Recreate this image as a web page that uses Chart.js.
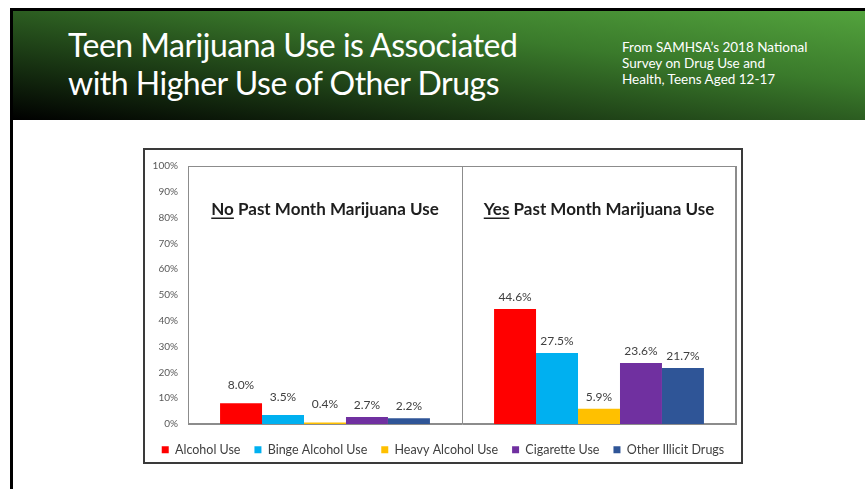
<!DOCTYPE html>
<html>
<head>
<meta charset="utf-8">
<script src="https://cdn.jsdelivr.net/npm/chart.js@4.4.1/dist/chart.umd.min.js"></script>
<style>
  body { margin: 0; background: #fff; width: 865px; height: 489px; overflow: hidden; position: relative; font-family: Lato, "Open Sans", sans-serif; }
  #slide { position: absolute; left: 10px; top: 8px; width: 855px; height: 481px; border-left: 3px solid #000; border-top: 3px solid #000; }
  #header { position: absolute; left: 13px; top: 11px; width: 852px; height: 109px;
    background: linear-gradient(to top right, #000 0%, #1c3c15 32%, #3a7a2b 66%, #53a33d 100%); }
  #title { position: absolute; left: 55px; top: 15px; color: #fff; font-size: 32px; font-weight: 400; letter-spacing: -0.5px; line-height: 38px; white-space: nowrap; }
  #subtitle { position: absolute; left: 609px; top: 28px; color: #fff; font-size: 13.5px; line-height: 16px; white-space: nowrap; }
  #frame { position: absolute; left: 143px; top: 148px; width: 600px; height: 316px; box-sizing: border-box; border: 2px solid #3a3a3a; background: #fff; }
  #chartBox { position: absolute; left: 0; top: 0; width: 596px; height: 312px; }
</style>
</head>
<body>
<div id="slide"></div>
<div id="header">
  <div id="title">Teen Marijuana Use is Associated<br>with Higher Use of Other Drugs</div>
  <div id="subtitle">From SAMHSA’s 2018 National<br>Survey on Drug Use and<br>Health, Teens Aged 12-17</div>
</div>
<div id="frame"><div id="chartBox"><canvas id="drugChart"></canvas></div></div>

<script>
// two panels: teens with / without past month marijuana use
const groupLead = ['No', 'Yes'];
const groupRest = [' Past Month Marijuana Use', ' Past Month Marijuana Use'];
const seriesNames = ['Alcohol Use', 'Binge Alcohol Use', 'Heavy Alcohol Use', 'Cigarette Use', 'Other Illicit Drugs'];
const seriesColors = ['#ff0000', '#00b0f0', '#ffc000', '#7030a0', '#2f5597'];

// percent of teens, [no marijuana, yes marijuana]
const alcoholUse = [8.0, 44.6];
const bingeAlcohol = [3.5, 27.5];
const heavyAlcohol = [0.4, 5.9];
const cigaretteUse = [2.7, 23.6];
const otherIllicit = [2.2, 21.7];

const yTickValues = [0, 10, 20, 30, 40, 50, 60, 70, 80, 90, 100];

const seriesValues = [alcoholUse, bingeAlcohol, heavyAlcohol, cigaretteUse, otherIllicit];

const FONT = 'Lato, "Open Sans", sans-serif';

// box round the plot area, panel headings and value labels
const panelPlugin = {
  id: 'panels',
  beforeDatasetsDraw(chart) {
    const {ctx, chartArea: a} = chart;
    ctx.save();
    ctx.strokeStyle = '#8c8c8c';
    ctx.lineWidth = 1;
    ctx.strokeRect(a.left + 0.5, a.top + 0.5, a.right - a.left - 1, a.bottom - a.top - 1);
    ctx.restore();
  },
  afterDatasetsDraw(chart, args, opts) {
    const {ctx, chartArea: a} = chart;
    const xs = chart.scales.x;
    ctx.save();
    ctx.font = 'bold 17px ' + FONT;
    ctx.fillStyle = '#1e1e1e';
    ctx.textBaseline = 'alphabetic';
    ctx.textAlign = 'left';
    groupLead.forEach((lead, i) => {
      const rest = groupRest[i];
      const wLead = ctx.measureText(lead).width;
      const w = wLead + ctx.measureText(rest).width;
      const x0 = xs.getPixelForValue(i) - w / 2;
      const y = a.top + 49;
      ctx.fillText(lead, x0, y);
      ctx.fillText(rest, x0 + wLead, y);
      ctx.fillRect(x0, y + 2.5, wLead, 1.5);
    });

    ctx.font = '12px ' + FONT;
    ctx.fillStyle = '#404040';
    ctx.textAlign = 'center';
    ctx.textBaseline = 'middle';
    chart.data.datasets.forEach((ds, di) => {
      const meta = chart.getDatasetMeta(di);
      meta.data.forEach((bar, i) => {
        const lift = (opts.lift[di] && opts.lift[di][i]) || 0;
        ctx.fillText(ds.data[i].toFixed(1) + '%', bar.x, bar.y - 12 - lift);
      });
    });
    ctx.restore();
  }
};

new Chart(document.getElementById('drugChart'), {
  type: 'bar',
  data: {
    labels: groupLead.map((l, i) => l + groupRest[i]),
    datasets: seriesNames.map((name, i) => ({
      label: name,
      data: seriesValues[i],
      backgroundColor: seriesColors[i],
      borderWidth: 0,
      minBarLength: 1.5,
      categoryPercentage: 0.766,
      barPercentage: 1
    }))
  },
  options: {
    responsive: true,
    maintainAspectRatio: false,
    animation: false,
    layout: { padding: { left: 0, right: 0, top: 16, bottom: -4 } },
    scales: {
      x: {
        ticks: { display: false },
        grid: { display: true, offset: true, color: '#8c8c8c', drawTicks: false },
        border: { display: true, color: '#8c8c8c' },
        afterFit(s) { s.height = 5.5; }
      },
      y: {
        min: 0,
        max: 100,
        afterBuildTicks(s) { s.ticks = yTickValues.map(v => ({ value: v })); },
        ticks: {
          callback: v => v + '%',
          color: '#595959',
          font: { family: FONT, size: 10 },
          padding: 10
        },
        grid: { display: false, drawTicks: false },
        border: { display: true, color: '#8c8c8c' },
        afterFit(s) { s.width = 43; }
      },
      // empty strip on the right so the plot box stops short of the frame
      yRight: {
        position: 'right',
        display: true,
        min: 0,
        max: 100,
        ticks: { display: false },
        grid: { display: false, drawTicks: false },
        border: { display: false },
        afterFit(s) { s.width = 5; }
      }
    },
    plugins: {
      legend: {
        position: 'bottom',
        labels: {
          boxWidth: 7,
          boxHeight: 7,
          padding: 14,
          color: '#404040',
          font: { family: FONT, size: 12.5 }
        }
      },
      tooltip: { enabled: false },
      panels: { lift: [[6, 0], [6, 0], [6, 0]] }
    }
  },
  plugins: [panelPlugin]
});
</script>
</body>
</html>
